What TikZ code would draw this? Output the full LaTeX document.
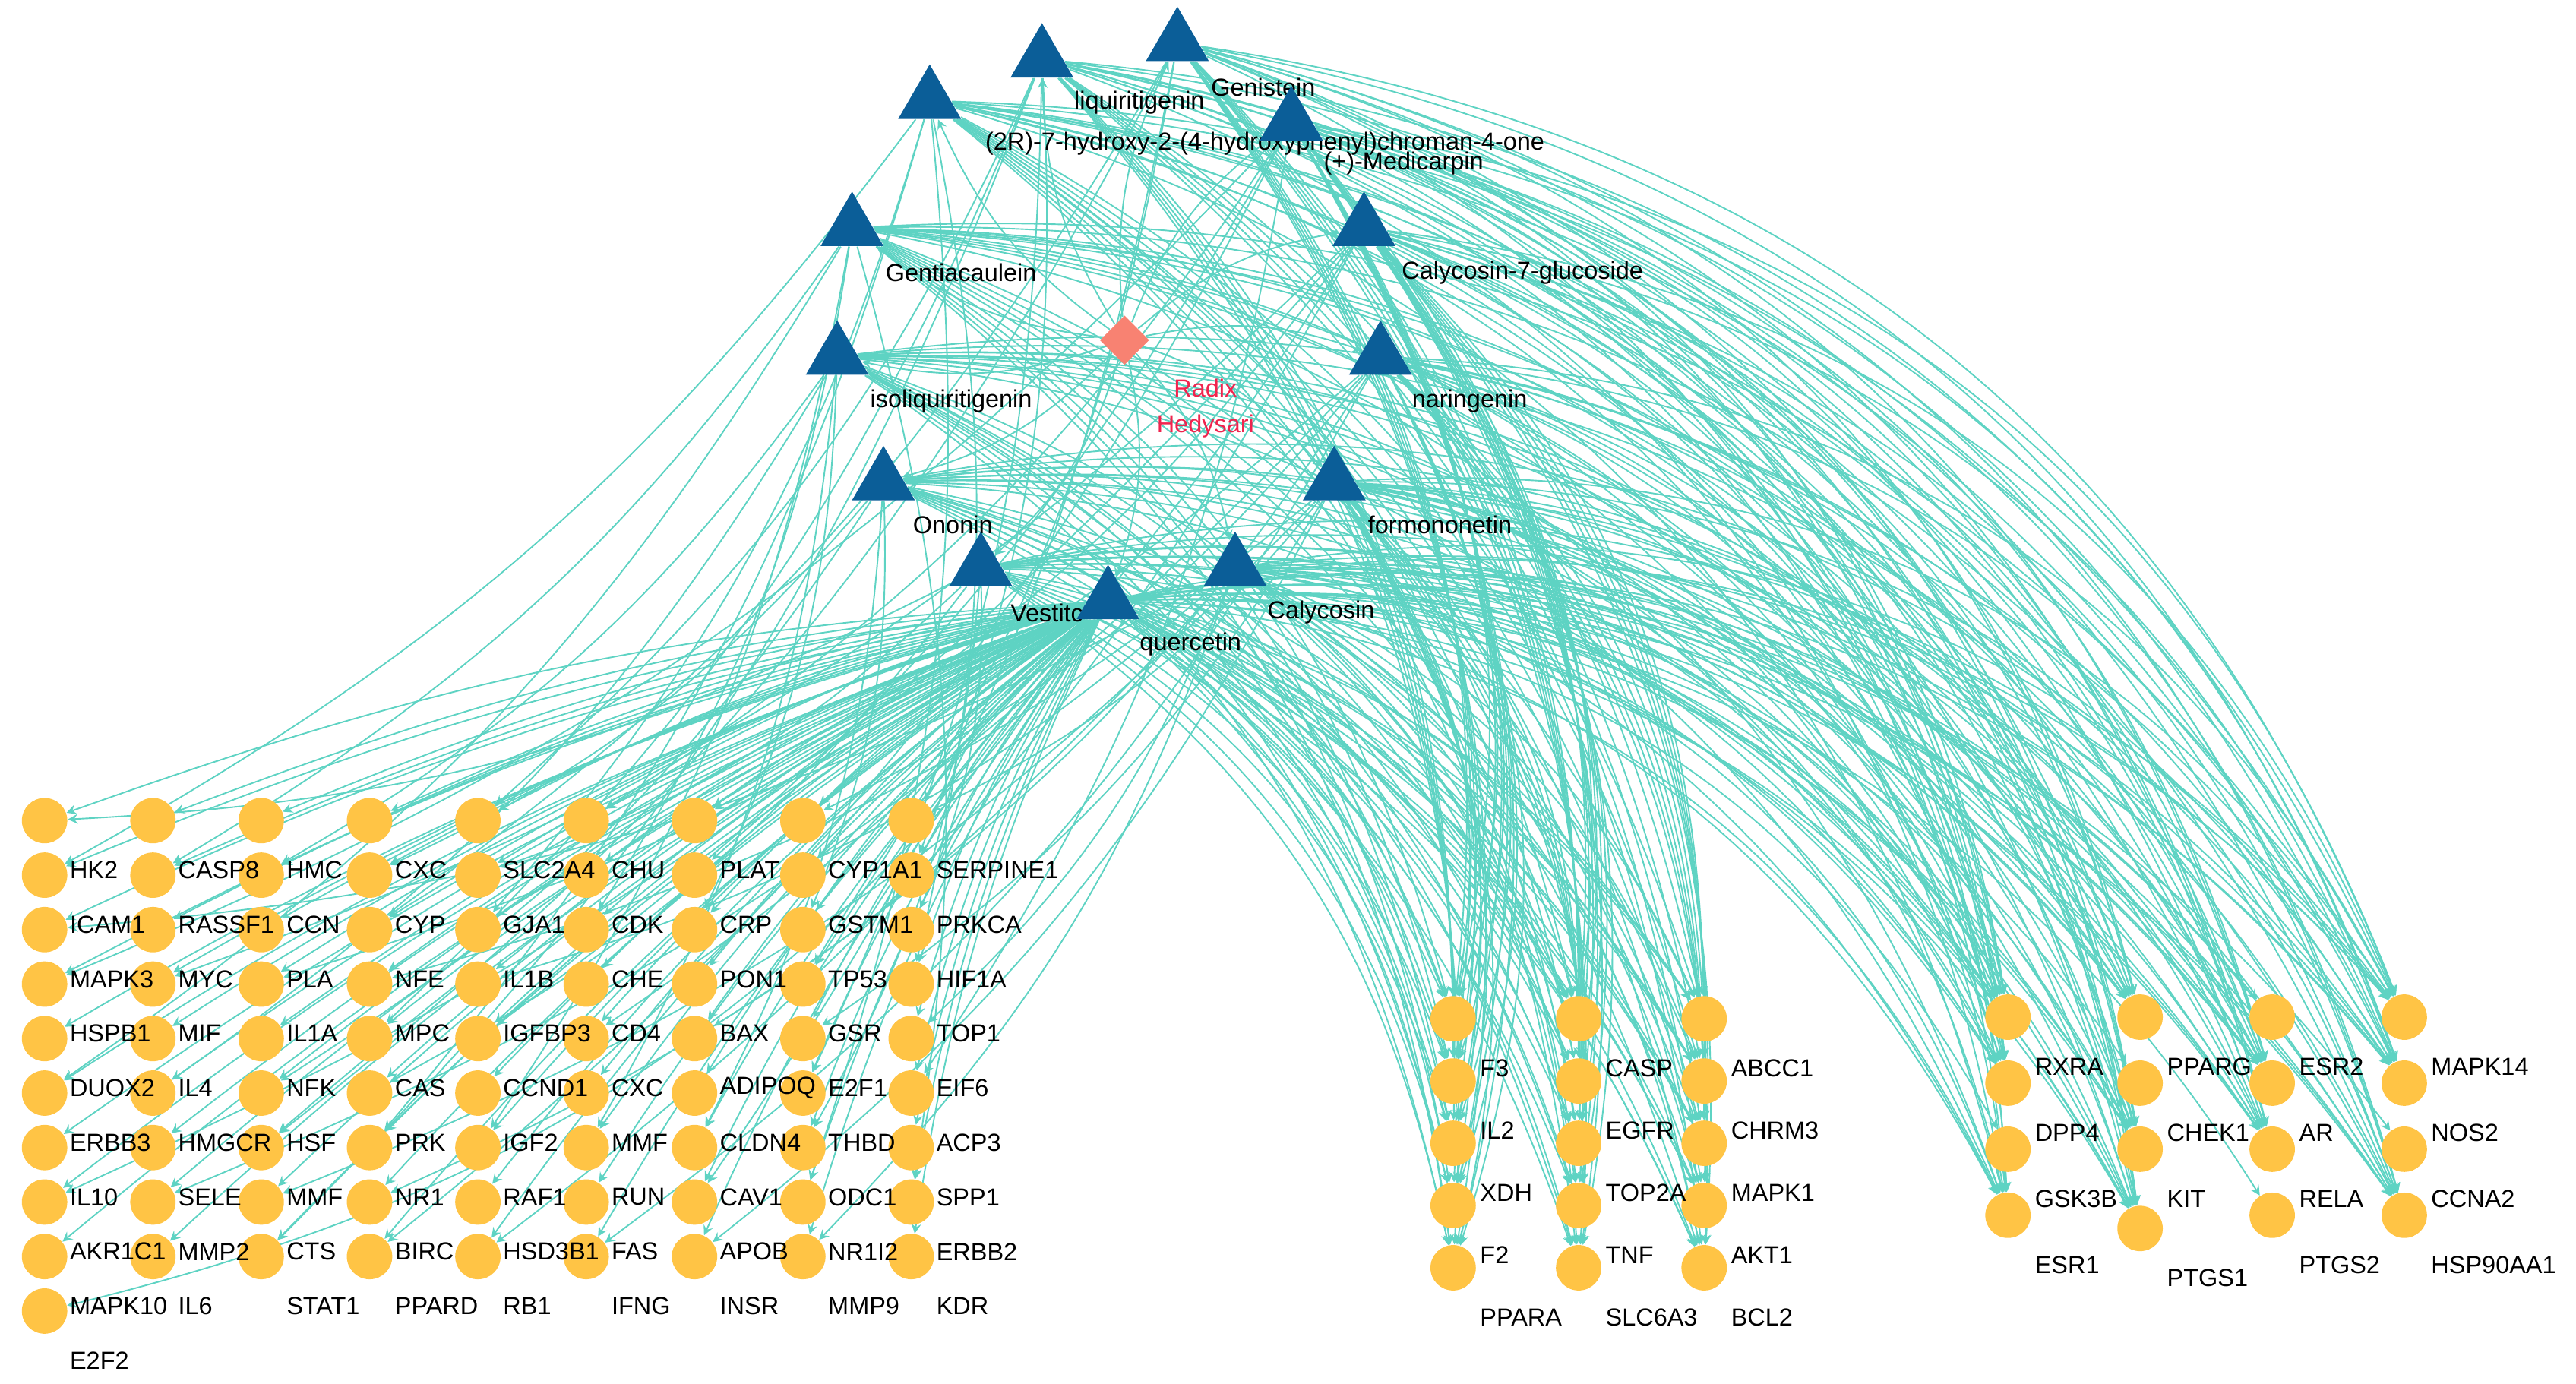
\documentclass[tikz,border=0pt]{standalone}
\usepackage{fontspec}
\setmainfont{Liberation Sans}
\usepackage{tikz}
\usepackage{xcolor}
\usetikzlibrary{shapes.geometric,backgrounds}
\definecolor{edgecol}{HTML}{5ED3C3}
\definecolor{compcol}{HTML}{0B5E98}
\definecolor{targcol}{HTML}{FFC445}
\definecolor{herbcol}{HTML}{F88272}
\definecolor{herbtext}{HTML}{F0244E}
\pgfdeclarelayer{foreground}
\pgfsetlayers{background,main,foreground}

\begin{document}
\begin{tikzpicture}[
        x=0.02cm, y=-0.02cm,
        target/.style={
            circle,
            fill=targcol,
            draw=none,
            minimum size=0.55cm,
            inner sep=0pt
        },
        compound/.style={
            regular polygon,
            regular polygon sides=3,
            fill=compcol,
            draw=none,
            minimum size=0.88cm,
            inner sep=0pt
        },
        herb/.style={
            diamond,
            fill=herbcol,
            draw=none,
            minimum size=0.6cm,
            inner sep=0pt
        },
        edge/.style={
            ->,
            >=stealth,
            draw=edgecol,
            line width=0.5pt
        },
        lbl/.style={
            font=\fontsize{8.5}{10}\selectfont,
            anchor=west,
            inner sep=0pt
        }
    ]
        \useasboundingbox (0,0) rectangle (1560,838);
        % herb and compounds
        \node (herb) [herb] at (681,206) {};
        \node [lbl, text=herbtext, anchor=center] (herbl1) at (730,235) {Radix};
        \node [lbl, text=herbtext, anchor=center] (herbl2) at (730,258) {Hedysari};
        \foreach \n/\x/\y/\lx/\ly/\t in {
            gen/713/26/765/53/{Genistein},
            liq/631/36/690/62/{liquiritigenin},
            hyd/563/61/766/87/{(2R)-7-hydroxy-2-(4-hydroxyphenyl)chroman-4-one},
            med/782/74/850/99/{(+)-Medicarpin},
            gcl/516/138/582/165/{Gentiacaulein},
            cyg/826/138/922/165/{Calycosin-7-glucoside},
            iso/507/216/576/243/{isoliquiritigenin},
            nar/836/216/890/243/{naringenin},
            ono/535/292/577/318/{Ononin},
            frm/808/292/872/318/{formononetin},
            ves/594/344/634/371/{Vestitc},
            que/671/364/721/390/{quercetin},
            cal/748/344/800/371/{Calycosin}}
        {
            \node (\n) [compound] at (\x,\y) {};
            \node (\n-l) [lbl, anchor=center] at (\lx,\ly) {\t};
        }
        % left block of targets
        \foreach \c/\names in {
            1/{HK2,ICAM1,MAPK3,HSPB1,DUOX2,ERBB3,IL10,AKR1C1,MAPK10,E2F2},
            2/{CASP8,RASSF1,MYC,MIF,IL4,HMGCR,SELE,MMP2,IL6},
            3/{HMC,CCN,PLA,IL1A,NFK,HSF,MMF,CTS,STAT1},
            4/{CXC,CYP,NFE,MPC,CAS,PRK,NR1,BIRC,PPARD},
            5/{SLC2A4,GJA1,IL1B,IGFBP3,CCND1,IGF2,RAF1,HSD3B1,RB1},
            6/{CHU,CDK,CHE,CD4,CXC,MMF,RUN,FAS,IFNG},
            7/{PLAT,CRP,PON1,BAX,ADIPOQ,CLDN4,CAV1,APOB,INSR},
            8/{CYP1A1,GSTM1,TP53,GSR,E2F1,THBD,ODC1,NR1I2,MMP9},
            9/{SERPINE1,PRKCA,HIF1A,TOP1,EIF6,ACP3,SPP1,ERBB2,KDR}}
        {
            \foreach \t [count=\r] in \names {
                \node (g-\c-\r) [target] at ({27+(\c-1)*65.6},{497+(\r-1)*33}) {};
                \begin{pgfonlayer}{foreground}
                    \node (g-\c-\r-l) [lbl] at ({42+(\c-1)*65.6},{527+(\r-1)*33}) {\t};
                \end{pgfonlayer}
            }
        }
        % middle block
        \foreach \c/\names in {
            1/{F3,IL2,XDH,F2,PPARA},
            2/{CASP,EGFR,TOP2A,TNF,SLC6A3},
            3/{ABCC1,CHRM3,MAPK1,AKT1,BCL2}}
        {
            \foreach \t [count=\r] in \names {
                \node (m-\c-\r) [target] at ({880+(\c-1)*76},{617+(\r-1)*37.7}) {};
                \begin{pgfonlayer}{foreground}
                    \node (m-\c-\r-l) [lbl] at ({896+(\c-1)*76},{647+(\r-1)*37.7}) {\t};
                \end{pgfonlayer}
            }
        }
        % right block
        \foreach \c/\names in {
            1/{RXRA,DPP4,GSK3B,ESR1},
            2/{PPARG,CHEK1,KIT,PTGS1},
            3/{ESR2,AR,RELA,PTGS2},
            4/{MAPK14,NOS2,CCNA2,HSP90AA1}}
        {
            \foreach \t [count=\r] in \names {
                \pgfmathsetmacro\yy{616+(\r-1)*40+(\c==2)*(\r==4)*8}
                \node (r-\c-\r) [target] at ({1216+(\c-1)*80},\yy) {};
                \begin{pgfonlayer}{foreground}
                    \node (r-\c-\r-l) [lbl] at ({1232+(\c-1)*80},\yy+30) {\t};
                \end{pgfonlayer}
            }
        }
        % connectors
        \begin{pgfonlayer}{background}
            \foreach \s in {gen,liq,hyd,med,gcl,cyg,iso,nar,ono,frm,ves,que,cal}
                \draw[edge] (herb) to[bend left=15] (\s);
            \foreach \c in {1,...,9}
                \foreach \r in {1,...,9}
                    \draw[edge] (que) to[bend right=8] (g-\c-\r);
            \draw[edge] (que) to[bend left=20] (g-1-10);
            \foreach \s [count=\k] in {gen,liq,hyd,med,gcl,cyg,iso,nar,ono,frm,ves,cal} {
                \foreach \c in {1,...,9}
                    \foreach \r in {1,...,9} {
                        \pgfmathtruncatemacro\ok{mod(\k*7+\c*3+\r*5,17)==0}
                        \ifnum\ok=1 \draw[edge] (\s) to[bend left=12] (g-\c-\r); \fi
                    }
                \foreach \c in {1,...,3}
                    \foreach \r in {1,...,5} {
                        \pgfmathtruncatemacro\ok{mod(\k*5+\c*2+\r*3,3)<2}
                        \ifnum\ok=1 \draw[edge] (\s) to[bend left=22] (m-\c-\r); \fi
                    }
                \foreach \c in {1,...,4}
                    \foreach \r in {1,...,4} {
                        \pgfmathtruncatemacro\ok{mod(\k*3+\c*5+\r*2,3)<2}
                        \ifnum\ok=1 \draw[edge] (\s) to[bend left=30] (r-\c-\r); \fi
                    }
            }
            \foreach \c in {1,...,3}
                \foreach \r in {1,...,5}
                    \draw[edge] (que) to[bend left=20] (m-\c-\r);
            \foreach \c in {1,...,4}
                \foreach \r in {1,...,4}
                    \draw[edge] (que) to[bend left=30] (r-\c-\r);
        \end{pgfonlayer}
\end{tikzpicture}
\end{document}
